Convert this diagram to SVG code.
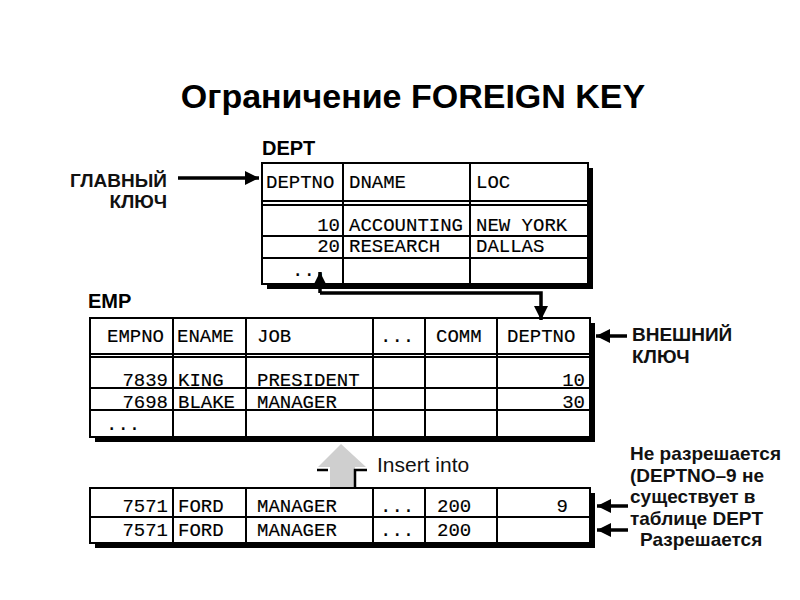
<svg xmlns="http://www.w3.org/2000/svg" width="800" height="600" viewBox="0 0 800 600">
<style>
.t{font-family:"Liberation Sans",Arial,sans-serif;font-weight:bold;fill:#000}
.lbl{font-family:"Liberation Sans",Arial,sans-serif;font-weight:bold;font-size:19px;fill:#111}
.m{font-family:"Liberation Mono","Courier New",monospace;font-size:19px;fill:#000;stroke:#000;stroke-width:0.15}
.r{text-anchor:end}
.cell{fill:#fff;stroke:#000;stroke-width:2}
.sh{fill:#000}
.ln{stroke:#000;stroke-width:2;fill:none}
.arr{stroke:#000;stroke-width:3.5;fill:none;marker-end:url(#ah)}
</style>
<defs>
<marker id="ah" viewBox="0 0 10 10" refX="10" refY="5" markerUnits="userSpaceOnUse" markerWidth="16" markerHeight="14" orient="auto-start-reverse">
<path d="M0,0 L10,5 L0,10 z" fill="#000"/>
</marker>
</defs>
<rect width="800" height="600" fill="#fff"/>
<text class="t" x="413" y="108" font-size="34" text-anchor="middle">Ограничение FOREIGN KEY</text>

<g id="dept">
<text class="t" x="262" y="155" font-size="20">DEPT</text>
<rect class="sh" x="267" y="168" width="326" height="121"/>
<rect class="cell" x="262" y="163" width="326" height="121"/>
<line class="ln" x1="262" y1="201" x2="588" y2="201"/>
<line class="ln" x1="262" y1="205" x2="588" y2="205"/>
<line class="ln" x1="262" y1="236" x2="588" y2="236"/>
<line class="ln" x1="262" y1="258" x2="588" y2="258"/>
<line class="ln" x1="343" y1="163" x2="343" y2="284"/>
<line class="ln" x1="470" y1="163" x2="470" y2="284"/>
<text class="m" x="266" y="188">DEPTNO</text>
<text class="m" x="349" y="188">DNAME</text>
<text class="m" x="476" y="188">LOC</text>
<text class="m r" x="340" y="231">10</text>
<text class="m" x="349" y="231">ACCOUNTING</text>
<text class="m" x="476" y="231">NEW YORK</text>
<text class="m r" x="340" y="252">20</text>
<text class="m" x="349" y="252">RESEARCH</text>
<text class="m" x="476" y="252">DALLAS</text>
<text class="m" x="292" y="276">...</text>
</g>

<g id="emp">
<text class="t" x="88" y="308" font-size="20">EMP</text>
<rect class="sh" x="95" y="323" width="500" height="119"/>
<rect class="cell" x="90" y="318" width="500" height="119"/>
<line class="ln" x1="90" y1="354" x2="590" y2="354"/>
<line class="ln" x1="90" y1="357" x2="590" y2="357"/>
<line class="ln" x1="90" y1="388" x2="590" y2="388"/>
<line class="ln" x1="90" y1="410" x2="590" y2="410"/>
<line class="ln" x1="173" y1="318" x2="173" y2="437"/>
<line class="ln" x1="246" y1="318" x2="246" y2="437"/>
<line class="ln" x1="373" y1="318" x2="373" y2="437"/>
<line class="ln" x1="425" y1="318" x2="425" y2="437"/>
<line class="ln" x1="497" y1="318" x2="497" y2="437"/>
<text class="m" x="107" y="342" font-size="18">EMPNO</text>
<text class="m" x="177" y="342" font-size="18">ENAME</text>
<text class="m" x="257" y="342">JOB</text>
<text class="m" x="380" y="342">...</text>
<text class="m" x="436" y="342" font-size="18">COMM</text>
<text class="m" x="507" y="342" font-size="18">DEPTNO</text>
<text class="m r" x="168" y="386">7839</text>
<text class="m" x="178" y="386">KING</text>
<text class="m" x="257" y="386">PRESIDENT</text>
<text class="m r" x="585" y="386">10</text>
<text class="m r" x="168" y="408">7698</text>
<text class="m" x="178" y="408">BLAKE</text>
<text class="m" x="257" y="408">MANAGER</text>
<text class="m r" x="585" y="408">30</text>
<text class="m" x="106" y="430">...</text>
</g>

<g id="insert">
<rect class="sh" x="95" y="493" width="500" height="55"/>
<rect class="cell" x="90" y="488" width="500" height="55"/>
<line class="ln" x1="90" y1="517" x2="590" y2="517"/>
<line class="ln" x1="173" y1="488" x2="173" y2="543"/>
<line class="ln" x1="246" y1="488" x2="246" y2="543"/>
<line class="ln" x1="373" y1="488" x2="373" y2="543"/>
<line class="ln" x1="425" y1="488" x2="425" y2="543"/>
<line class="ln" x1="497" y1="488" x2="497" y2="543"/>
<text class="m r" x="168" y="512">7571</text>
<text class="m" x="178" y="512">FORD</text>
<text class="m" x="257" y="512">MANAGER</text>
<text class="m" x="380" y="512">...</text>
<text class="m" x="437" y="512">200</text>
<text class="m r" x="568" y="512">9</text>
<text class="m r" x="168" y="536">7571</text>
<text class="m" x="178" y="536">FORD</text>
<text class="m" x="257" y="536">MANAGER</text>
<text class="m" x="380" y="536">...</text>
<text class="m" x="437" y="536">200</text>
</g>

<g id="insert-arrow">
<polygon points="341,444 318,467 330,467 330,487 355,487 355,467 366,467" fill="#cfcfcf"/>
<path d="M317,470 H328 M355,488 V470 H367" stroke="#000" stroke-width="2.5" fill="none"/>
<text x="377" y="472" font-family="'Liberation Sans',Arial,sans-serif" font-size="21" fill="#111">Insert into</text>
</g>

<g id="labels">
<text class="lbl r" x="167" y="187" font-size="18">ГЛАВНЫЙ</text>
<text class="lbl r" x="167" y="208" font-size="18">КЛЮЧ</text>
<text class="lbl" x="632" y="341">ВНЕШНИЙ</text>
<text class="lbl" x="632" y="363">КЛЮЧ</text>
<text class="lbl" x="630" y="460">Не разрешается</text>
<text class="lbl" x="630" y="481.5">(DEPTNO–9 не</text>
<text class="lbl" x="630" y="503">существует в</text>
<text class="lbl" x="630" y="524.5">таблице DEPT</text>
<text class="lbl" x="640" y="546">Разрешается</text>
</g>

<g id="connectors">
<path class="arr" d="M178,178 H259"/>
<path class="arr" d="M320,293 V272"/>
<path class="arr" d="M320,293 H541 V320"/>
<path class="arr" d="M627,336 H596"/>
<path class="arr" d="M628,506 H597"/>
<path class="arr" d="M628,530 H597"/>
</g>
</svg>
